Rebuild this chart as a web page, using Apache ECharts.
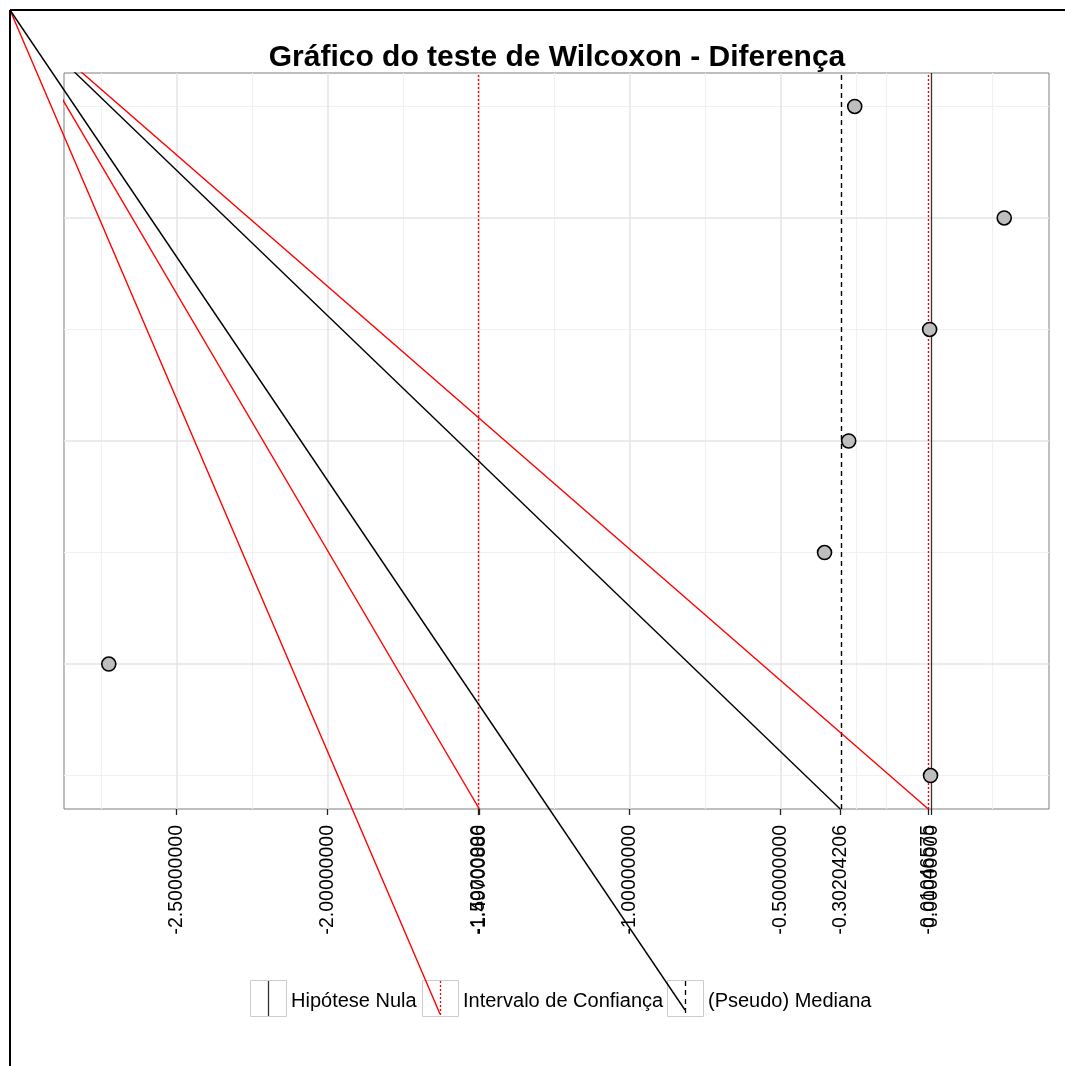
<!DOCTYPE html>
<html><head><meta charset="utf-8">
<script src="https://cdn.jsdelivr.net/npm/echarts@6/dist/echarts.min.js"></script>
<style>html,body{margin:0;padding:0;background:#fff}#c{width:1065px;height:1066px}</style>
</head><body><div id="c"></div>
<script>
// ---- data ----
const titleText = 'Gráfico do teste de Wilcoxon - Diferença';
const rowIndex = [1, 2, 3, 4, 5, 6, 7];
const diffValues = [-0.003, -2.724, -0.354, -0.274, -0.006, 0.241, -0.254];
const nullHypothesis = 0;
const ciBounds = [-1.49700886, -0.01046575];
const pseudoMedian = -0.30204206;
const xTickValues = [-2.5, -2.0, -1.5, -1.49700886, -1.0, -0.5, -0.30204206, -0.01046575];
const xTickValuesExtra = [0];
const xMajorGrid = [-2.5, -2.0, -1.5, -1.0, -0.5];
const xMinorGrid = [-2.75, -2.25, -1.75, -1.25, -0.75, -0.25, -0.15, 0.2];
const yMajorGrid = [2, 4, 6];
const yMinorGrid = [1, 3, 5, 7];
const legendLabels = ['Hipótese Nula', 'Intervalo de Confiança', '(Pseudo) Mediana'];

// ---- scales (ggplot-like 5% expansion) ----
const xLo = Math.min(...diffValues), xHi = Math.max(...diffValues);
const xMin = xLo - 0.05 * (xHi - xLo), xMax = xHi + 0.05 * (xHi - xLo);
const yLo = Math.min(...rowIndex), yHi = Math.max(...rowIndex);
const yMin = yLo - 0.05 * (yHi - yLo), yMax = yHi + 0.05 * (yHi - yLo);

const FONT = 'Liberation Sans, Arial, sans-serif';
const chart = echarts.init(document.getElementById('c'), null, {renderer: 'canvas'});

const gridRect = {left: 64, top: 73, width: 985, height: 736};

function vLine(v, color, width, type) {
  return {xAxis: v, lineStyle: {color: color, width: width, type: type}};
}
function hLine(v, color, width) {
  return {yAxis: v, lineStyle: {color: color, width: width, type: 'solid'}};
}

const gridLines = []
  .concat(xMinorGrid.map(v => vLine(v, '#F1F1F1', 1.2, 'solid')))
  .concat(yMinorGrid.map(v => hLine(v, '#F1F1F1', 1.2)))
  .concat(xMajorGrid.map(v => vLine(v, '#E5E5E5', 1.5, 'solid')))
  .concat(yMajorGrid.map(v => hLine(v, '#E5E5E5', 1.5)));

const refLines = [
  vLine(nullHypothesis, '#333333', 1.3, 'solid'),
  vLine(pseudoMedian, '#000000', 1.4, [5, 4]),
  vLine(ciBounds[0], '#FF0000', 1.4, [2, 2]),
  vLine(ciBounds[1], '#FF0000', 1.4, [2, 2])
];

function xAxisDef(values) {
  return {
    type: 'value', min: xMin, max: xMax, position: 'bottom', offset: 0,
    axisLine: {show: false},
    splitLine: {show: false},
    axisTick: {show: true, customValues: values, length: 6, lineStyle: {color: '#222', width: 1.3}},
    axisLabel: {
      show: true, customValues: values, rotate: 90, margin: 16,
      showMinLabel: true, showMaxLabel: true, hideOverlap: false,
      fontFamily: FONT, fontSize: 19.5, color: '#000',
      formatter: v => (Math.abs(v) < 1e-12 ? 0 : Number(v)).toFixed(8)
    }
  };
}

const baseOption = {
  animation: false,
  backgroundColor: '#ffffff',
  title: {
    text: titleText, left: 557, top: 43, textAlign: 'center', padding: 0,
    textStyle: {fontFamily: FONT, fontSize: 30, fontWeight: 'bold', color: '#000'}
  },
  grid: Object.assign({show: true, borderColor: '#7F7F7F', borderWidth: 1, backgroundColor: '#fff', containLabel: false}, gridRect),
  xAxis: [xAxisDef(xTickValues), xAxisDef(xTickValuesExtra)],
  yAxis: {
    type: 'value', min: yMin, max: yMax,
    axisLine: {show: false}, axisTick: {show: false}, axisLabel: {show: false}, splitLine: {show: false}
  },
  series: [
    {
      type: 'line', name: 'grid', data: [], silent: true, z: 1,
      markLine: {silent: true, symbol: ['none', 'none'], label: {show: false}, animation: false, data: gridLines}
    },
    {
      type: 'line', name: 'ref', data: [], silent: true, z: 3,
      markLine: {silent: true, symbol: ['none', 'none'], label: {show: false}, animation: false, data: refLines}
    },
    {
      type: 'scatter', name: 'Diferença', z: 10,
      data: rowIndex.map((r, i) => [diffValues[i], r]),
      symbol: 'circle', symbolSize: 14,
      itemStyle: {color: '#BEBEBE', borderColor: '#000', borderWidth: 1.6, opacity: 1}
    }
  ]
};
chart.setOption(baseOption);

// origin of the stray segments: page corner of the outer viewport
const pageCorner = [10, 10];
const origin = chart.convertFromPixel({gridIndex: 0}, pageCorner);

function diag(name, xEnd, color) {
  return {
    type: 'line', name: name, silent: true, z: 5, clip: true, symbol: 'none',
    data: [[origin[0], origin[1]], [xEnd, yMin]],
    lineStyle: {color: color, width: 1.4}
  };
}

// legend geometry
const keyTop = 980, keySize = 36;
const keyX = [250, 422, 667];
const keyLine = [
  {stroke: '#333333', lineDash: null},
  {stroke: '#FF0000', lineDash: [2, 2]},
  {stroke: '#000000', lineDash: [5, 4]}
];
const graphics = [];
// outer viewport frame
graphics.push({type: 'line', z: 50, shape: {x1: 10, y1: 10, x2: 1065, y2: 10}, style: {stroke: '#000', lineWidth: 2}});
graphics.push({type: 'line', z: 50, shape: {x1: 10, y1: 10, x2: 10, y2: 1066}, style: {stroke: '#000', lineWidth: 2}});
legendLabels.forEach((lab, i) => {
  const x = keyX[i];
  graphics.push({type: 'rect', z: 20, shape: {x: x + 0.5, y: keyTop + 0.5, width: keySize, height: keySize},
    style: {fill: '#fff', stroke: '#CCCCCC', lineWidth: 1}});
  graphics.push({type: 'line', z: 21, shape: {x1: x + keySize / 2 + 0.5, y1: keyTop + 1, x2: x + keySize / 2 + 0.5, y2: keyTop + keySize},
    style: {stroke: keyLine[i].stroke, lineWidth: 1.3, lineDash: keyLine[i].lineDash}});
  graphics.push({type: 'text', z: 21, x: x + keySize + 5, y: keyTop + keySize / 2 + 3,
    style: {text: lab, font: '20px ' + FONT, fill: '#000', textAlign: 'left', textVerticalAlign: 'middle'}});
});
// stray segments reaching the legend keys
graphics.push({type: 'line', z: 30, shape: {x1: 10, y1: 10, x2: keyX[1] + keySize / 2, y2: keyTop + 34},
  style: {stroke: '#FF0000', lineWidth: 1.4}});
graphics.push({type: 'line', z: 30, shape: {x1: 10, y1: 10, x2: keyX[2] + keySize / 2, y2: keyTop + 30},
  style: {stroke: '#000000', lineWidth: 1.4}});

chart.setOption({
  series: baseOption.series.concat([
    diag('diagCiLow', ciBounds[0], '#FF0000'),
    diag('diagMedian', pseudoMedian, '#000000'),
    diag('diagCiHigh', ciBounds[1], '#FF0000')
  ]),
  graphic: graphics
});
</script></body></html>
